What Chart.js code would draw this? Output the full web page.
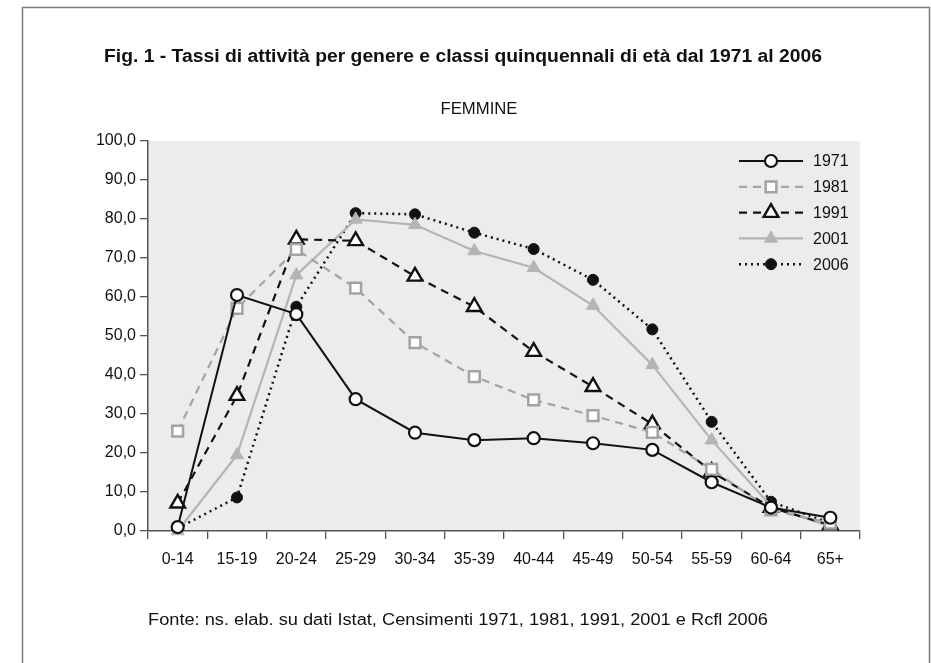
<!DOCTYPE html>
<html>
<head>
<meta charset="utf-8">
<script src="https://cdn.jsdelivr.net/npm/chart.js@4.4.0/dist/chart.umd.min.js"></script>
<style>
  html, body { margin: 0; padding: 0; background: #fff; }
  canvas { display: block; }
</style>
</head>
<body>
<canvas id="chart" width="931" height="663"></canvas>
<script>
// classi di età e tassi di attività femminili (%)
const ageClasses = ['0-14', '15-19', '20-24', '25-29', '30-34', '35-39', '40-44', '45-49', '50-54', '55-59', '60-64', '65+'];
const years = ['1971', '1981', '1991', '2001', '2006'];
const rates1971 = [1.0, 60.5, 55.6, 33.8, 25.2, 23.3, 23.8, 22.5, 20.8, 12.5, 6.0, 3.4];
const rates1981 = [25.6, 57.1, 72.2, 62.3, 48.3, 39.6, 33.6, 29.6, 25.3, 15.8, 5.4, 2.0];
const rates1991 = [7.1, 34.7, 74.8, 74.4, 65.3, 57.5, 46.0, 37.0, 27.4, 15.2, 6.0, 1.5];
const rates2001 = [0.0, 19.5, 65.6, 79.9, 78.5, 71.8, 67.5, 57.8, 42.6, 23.3, 6.4, 1.1];
const rates2006 = [0.7, 8.6, 57.5, 81.5, 81.2, 76.5, 72.3, 64.4, 51.7, 28.0, 7.5, 2.0];
const yTicks = [0, 10, 20, 30, 40, 50, 60, 70, 80, 90, 100];

const titleText = 'Fig. 1 - Tassi di attività per genere e classi quinquennali di età dal 1971 al 2006';
const subtitleText = 'FEMMINE';
const sourceText = 'Fonte: ns. elab. su dati Istat, Censimenti 1971, 1981, 1991, 2001 e Rcfl 2006';

const FONT = "'Liberation Sans', Arial, Helvetica, sans-serif";

function main() {

    // testo centrato, adattato in larghezza
    const fillText = (ctx, text, cx, cy, font, width) => {
        ctx.font = font;
        const w = ctx.measureText(text).width;
        const s = width ? width / w : 1;
        ctx.save();
        ctx.translate(cx, cy);
        ctx.scale(s, 1);
        ctx.fillText(text, 0, 0);
        ctx.restore();
    };

    const pageDecor = {
        id: 'pageDecor',
        beforeDraw(chart) {
            const { ctx, chartArea: a } = chart;
            ctx.save();
            // cornice
            ctx.strokeStyle = '#7b7b7b';
            ctx.lineWidth = 1.5;
            ctx.beginPath();
            ctx.moveTo(22.5, 663);
            ctx.lineTo(22.5, 7.5);
            ctx.lineTo(929.5, 7.5);
            ctx.lineTo(929.5, 663);
            ctx.stroke();
            // sfondo area del grafico
            ctx.fillStyle = '#ebecec';
            ctx.fillRect(a.left, a.top, a.right - a.left, a.bottom - a.top);
            ctx.restore();
        },
        afterDraw(chart) {
            const { ctx } = chart;
            ctx.save();
            ctx.fillStyle = '#111';
            ctx.textAlign = 'center';
            ctx.textBaseline = 'middle';
            fillText(ctx, titleText, 463, 57, `bold 18px ${FONT}`, 718);
            fillText(ctx, subtitleText, 479, 110, `16px ${FONT}`, 77);
            fillText(ctx, sourceText, 458, 621, `16px ${FONT}`, 620);
            ctx.restore();
        }
    };

    const lineLegend = {
        id: 'lineLegend',
        afterDatasetsDraw(chart) {
            const { ctx, chartArea: a } = chart;
            ctx.save();
            chart.data.datasets.forEach((ds, i) => {
                const y = a.top + 20 + i * 25.8;
                const x0 = a.right - 121, x1 = a.right - 57, xm = a.right - 89;
                ctx.strokeStyle = ds.borderColor;
                ctx.lineWidth = ds.borderWidth;
                ctx.setLineDash(ds.borderDash || []);
                ctx.beginPath();
                ctx.moveTo(x0, y);
                ctx.lineTo(x1, y);
                ctx.stroke();
                ctx.setLineDash([]);
                ctx.fillStyle = ds.pointBackgroundColor;
                ctx.strokeStyle = ds.pointBorderColor;
                ctx.lineWidth = ds.pointBorderWidth;
                Chart.helpers.drawPoint(ctx, {
                    pointStyle: ds.pointStyle,
                    radius: ds.pointRadius,
                    rotation: 0,
                    borderWidth: ds.pointBorderWidth
                }, xm, y);
                ctx.fillStyle = '#111';
                ctx.font = `16px ${FONT}`;
                ctx.textAlign = 'left';
                ctx.textBaseline = 'middle';
                ctx.fillText(ds.label, a.right - 47, y + 1);
            });
            ctx.restore();
        }
    };

    const datasets = [
        {
            label: years[0], data: rates1971,
            borderColor: '#111', borderWidth: 2,
            pointStyle: 'circle', pointRadius: 6,
            pointBackgroundColor: '#fff', pointBorderColor: '#111', pointBorderWidth: 2.2
        },
        {
            label: years[1], data: rates1981,
            borderColor: '#a3a3a3', borderWidth: 2.2, borderDash: [8, 6],
            pointStyle: 'rect', pointRadius: 7.6,
            pointBackgroundColor: '#fff', pointBorderColor: '#a3a3a3', pointBorderWidth: 2.5
        },
        {
            label: years[2], data: rates1991,
            borderColor: '#111', borderWidth: 2.2, borderDash: [8, 6],
            pointStyle: 'triangle', pointRadius: 8.5,
            pointBackgroundColor: '#fff', pointBorderColor: '#111', pointBorderWidth: 2.4
        },
        {
            label: years[3], data: rates2001,
            borderColor: '#b4b4b4', borderWidth: 2.2,
            pointStyle: 'triangle', pointRadius: 7.5,
            pointBackgroundColor: '#b4b4b4', pointBorderColor: '#b4b4b4', pointBorderWidth: 1
        },
        {
            label: years[4], data: rates2006,
            borderColor: '#111', borderWidth: 2.5, borderDash: [2, 4],
            pointStyle: 'circle', pointRadius: 5.5,
            pointBackgroundColor: '#111', pointBorderColor: '#111', pointBorderWidth: 1
        }
    ].map((ds) => ({ ...ds, tension: 0, clip: false, fill: false }));

    new Chart(document.querySelector('#chart'), {
        type: 'line',
        data: { labels: ageClasses, datasets },
        options: {
            responsive: false,
            animation: false,
            layout: { padding: { left: 22, top: 141, right: 71, bottom: 72 } },
            plugins: {
                legend: { display: false },
                tooltip: { enabled: false },
                title: { display: false }
            },
            scales: {
                x: {
                    offset: true,
                    grid: { offset: true, drawOnChartArea: false, tickLength: 8, color: '#555', lineWidth: 1.3 },
                    border: { color: '#555', width: 1.5 },
                    ticks: { color: '#111', font: { family: FONT, size: 16 }, padding: 11, maxRotation: 0, autoSkip: false },
                    afterFit(scale) { scale.height = 60; }
                },
                y: {
                    min: 0,
                    max: 100,
                    afterBuildTicks(scale) { scale.ticks = yTicks.map((v) => ({ value: v })); },
                    grid: { drawOnChartArea: false, tickLength: 8, color: '#555', lineWidth: 1.3 },
                    border: { color: '#555', width: 1.5 },
                    ticks: {
                        color: '#111', font: { family: FONT, size: 16 }, padding: 4,
                        callback: (v) => Number(v).toFixed(1).replace('.', ',')
                    },
                    afterFit(scale) { scale.width = 126; }
                }
            }
        },
        plugins: [pageDecor, lineLegend]
    });
}

main();
</script>
</body>
</html>
